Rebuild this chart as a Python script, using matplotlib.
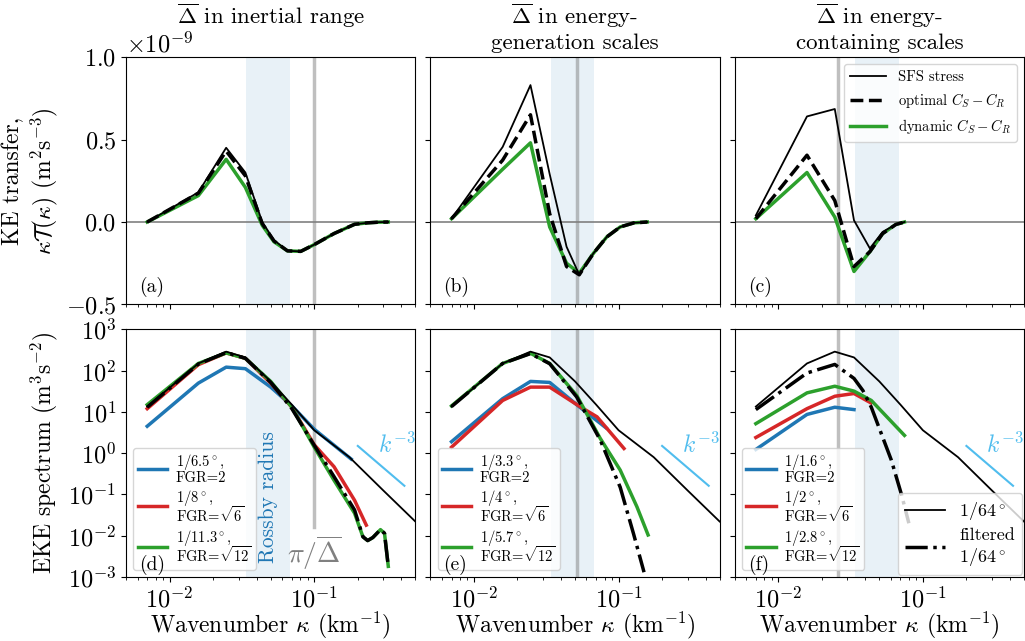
import numpy as np
import matplotlib
matplotlib.use("Agg")
import matplotlib.pyplot as plt
from matplotlib.ticker import NullLocator

plt.rcParams['font.family'] = 'serif'
plt.rcParams['font.serif'] = ['cmr10', 'DejaVu Serif']
plt.rcParams['mathtext.fontset'] = 'cm'
plt.rcParams['axes.formatter.use_mathtext'] = True
plt.rcParams['font.size'] = 17
plt.rcParams['xtick.labelsize'] = 17.5
plt.rcParams['ytick.labelsize'] = 17.5

# ---- KE transfer (units of 1e-9 m^2 s^-3) ----
ka_top = [0.007, 0.0158, 0.0246, 0.0334, 0.0437, 0.0527, 0.0653, 0.0807, 0.1, 0.137, 0.19, 0.234, 0.28, 0.325]
sfs_a = [0.0, 0.18, 0.45, 0.30, 0.0, -0.11, -0.175, -0.178, -0.137, -0.07, -0.014, -0.005, -0.001, 0.0]
opt_a = [0.0, 0.175, 0.43, 0.28, -0.01, -0.115, -0.175, -0.178, -0.137, -0.07, -0.014, -0.005, -0.001, 0.0]
dyn_a = [0.0, 0.16, 0.38, 0.21, -0.02, -0.12, -0.175, -0.178, -0.137, -0.07, -0.014, -0.005, -0.001, 0.0]

kb_top = [0.007, 0.0158, 0.0246, 0.0334, 0.0437, 0.0535, 0.067, 0.083, 0.1026, 0.128, 0.158]
sfs_b = [0.02, 0.455, 0.83, 0.29, -0.15, -0.32, -0.19, -0.09, -0.03, -0.005, 0.0]
opt_b = [0.02, 0.375, 0.65, 0.05, -0.27, -0.32, -0.19, -0.09, -0.03, -0.005, 0.0]
dyn_b = [0.02, 0.32, 0.48, -0.03, -0.25, -0.31, -0.19, -0.09, -0.03, -0.005, 0.0]

kc_top = [0.007, 0.0158, 0.0246, 0.0334, 0.043, 0.0527, 0.065, 0.0746]
sfs_c = [0.04, 0.64, 0.685, 0.01, -0.16, -0.06, -0.015, 0.0]
opt_c = [0.02, 0.405, 0.13, -0.27, -0.18, -0.07, -0.015, 0.0]
dyn_c = [0.02, 0.30, 0.03, -0.30, -0.18, -0.07, -0.015, 0.0]

# ---- EKE spectra (m^3 s^-2) ----
k_hr = [0.007, 0.0158, 0.0246, 0.0334, 0.05, 0.07, 0.1, 0.175, 0.3, 0.5]
E_hr = [13.5, 150, 290, 210, 55, 15, 3.6, 0.8, 0.125, 0.022]

# panel d
kf_d = [0.007, 0.0158, 0.0246, 0.0334, 0.05, 0.07, 0.1, 0.137, 0.19, 0.217, 0.234, 0.254, 0.287, 0.306, 0.325]
Ef_d = [13, 145, 275, 200, 52, 12, 1.55, 0.27, 0.042, 0.0094, 0.0076, 0.009, 0.014, 0.0114, 0.0018]
Eg_d = [15, 150, 270, 200, 55, 13, 1.4, 0.22, 0.035, 0.0094, 0.0076, 0.009, 0.014, 0.0114, 0.0018]
kr_d = [0.007, 0.0158, 0.0246, 0.0334, 0.05, 0.07, 0.1, 0.137, 0.19, 0.229]
Er_d = [12, 140, 270, 200, 50, 13, 1.6, 0.47, 0.072, 0.018]
kbl_d = [0.007, 0.0158, 0.0246, 0.0334, 0.05, 0.07, 0.1, 0.18]
Ebl_d = [4.5, 50, 122, 112, 40, 14, 3.8, 0.72]

# panel e
kf_e = [0.007, 0.0158, 0.0246, 0.0334, 0.0514, 0.0746, 0.1026, 0.127, 0.15]
Ef_e = [13.5, 150, 260, 148, 23, 2.1, 0.15, 0.011, 0.0013]
kg_e = [0.007, 0.0158, 0.0246, 0.0334, 0.0514, 0.0746, 0.1026, 0.134, 0.16]
Eg_e = [14, 150, 265, 150, 25, 2.3, 0.39, 0.05, 0.0104]
kbl_e = [0.007, 0.0158, 0.0246, 0.0334, 0.054, 0.082]
Ebl_e = [1.9, 21, 55, 52, 13, 4.1]
kr_e = [0.007, 0.0158, 0.0246, 0.0334, 0.054, 0.071, 0.083, 0.109]
Er_e = [1.4, 19, 40, 40, 13.5, 7.6, 4, 1.3]

# panel f
kf_f = [0.007, 0.0158, 0.0246, 0.0334, 0.0385, 0.044, 0.0605, 0.0714, 0.08]
Ef_f = [11.4, 88, 142, 65, 33, 13, 0.68, 0.095, 0.02]
kg_f = [0.007, 0.0158, 0.0246, 0.0334, 0.044, 0.0746]
Eg_f = [5.2, 29, 42, 32, 19, 2.7]
kr_f = [0.007, 0.0158, 0.0246, 0.0334, 0.0437]
Er_f = [2.4, 12, 24, 28, 16.6]
kbl_f = [0.007, 0.0158, 0.0246, 0.0334]
Ebl_f = [1.23, 8.7, 13, 11.4]

titles = ["$\\overline{\\Delta}$ in inertial range",
          "$\\overline{\\Delta}$ in energy-\ngeneration scales",
          "$\\overline{\\Delta}$ in energy-\ncontaining scales"]
delta_k = [0.1, 0.0516, 0.026]   # pi / Delta-bar
rossby = (0.034, 0.068)
labels_blue = ["1/6.5$^\\circ$,\nFGR=2", "1/3.3$^\\circ$,\nFGR=2", "1/1.6$^\\circ$,\nFGR=2"]
labels_red = ["1/8$^\\circ$,\nFGR=$\\sqrt{6}$", "1/4$^\\circ$,\nFGR=$\\sqrt{6}$", "1/2$^\\circ$,\nFGR=$\\sqrt{6}$"]
labels_green = ["1/11.3$^\\circ$,\nFGR=$\\sqrt{12}$", "1/5.7$^\\circ$,\nFGR=$\\sqrt{12}$", "1/2.8$^\\circ$,\nFGR=$\\sqrt{12}$"]
kref = np.array([0.2, 0.42])

green = '#2ca02c'
blue = '#1f77b4'
red = '#d62728'
lblue = '#50bdee'

fig, axs = plt.subplots(2, 3, figsize=(10.25, 6.41), dpi=100, sharex=True, sharey='row')
fig.subplots_adjust(left=0.123, right=0.999, top=0.911, bottom=0.1, wspace=0.052, hspace=0.101)

tops = [(ka_top, sfs_a, opt_a, dyn_a), (kb_top, sfs_b, opt_b, dyn_b), (kc_top, sfs_c, opt_c, dyn_c)]
for i, (kk, s, o, d) in enumerate(tops):
    ax = axs[0, i]
    ax.axvspan(*rossby, color=blue, alpha=0.1, lw=0, zorder=0)
    ax.axvline(delta_k[i], color='gray', alpha=0.5, lw=2.5, zorder=1)
    ax.axhline(0, color='gray', lw=1.2, zorder=1)
    ax.plot(kk, np.array(s) * 1e-9, color='k', lw=1.3, label='SFS stress', zorder=3)
    ax.plot(kk, np.array(o) * 1e-9, color='k', lw=2.5, ls='--', label='optimal $C_S-C_R$', zorder=4)
    ax.plot(kk, np.array(d) * 1e-9, color=green, lw=2.5, label='dynamic $C_S-C_R$', zorder=2)
    ax.set_title(titles[i], fontsize=16.5)
    ax.text(0.045, 0.05, '(%s)' % 'abc'[i], transform=ax.transAxes, fontsize=14)

axs[0, 0].set_xscale('log')
axs[0, 0].set_xlim(0.005, 0.5)
axs[0, 0].set_ylim(-0.5e-9, 1.0e-9)
axs[0, 0].set_yticks([-0.5e-9, 0, 0.5e-9, 1.0e-9])
axs[0, 0].set_ylabel('KE transfer,\n$\\kappa\\mathcal{T}(\\kappa)$ (m$^2$s$^{-3}$)')
axs[0, 2].legend(loc='upper right', fontsize=10.5, handlelength=2.5)

bots = [(kf_d, Ef_d, kf_d, Eg_d, kr_d, Er_d, kbl_d, Ebl_d),
        (kf_e, Ef_e, kg_e, Eg_e, kr_e, Er_e, kbl_e, Ebl_e),
        (kf_f, Ef_f, kg_f, Eg_f, kr_f, Er_f, kbl_f, Ebl_f)]
for i, (kf, Ef, kg, Eg, kr, Er, kb, Eb) in enumerate(bots):
    ax = axs[1, i]
    ax.axvspan(*rossby, color=blue, alpha=0.1, lw=0, zorder=0)
    ax.axvline(delta_k[i], ymin=0.2 if i == 0 else 0, color='gray', alpha=0.5, lw=2.5, zorder=1)
    h64, = ax.plot(k_hr, E_hr, color='k', lw=1.3, zorder=3)
    hb, = ax.plot(kb, Eb, color=blue, lw=2.5, label=labels_blue[i], zorder=2)
    hr, = ax.plot(kr, Er, color=red, lw=2.5, label=labels_red[i], zorder=2)
    hg, = ax.plot(kg, Eg, color=green, lw=2.5, label=labels_green[i], zorder=2)
    hf, = ax.plot(kf, Ef, color='k', lw=2.5, ls='-.', zorder=4)
    ax.plot(kref, 1.5 * (kref / 0.2) ** -3, color=lblue, lw=1.5)
    ax.text(0.275, 1.0, '$k^{-3}$', color=lblue, fontsize=17)
    leg = ax.legend(handles=[hb, hr, hg], loc='lower left', fontsize=10.5, handlelength=2.0,
                    handletextpad=0.6, labelspacing=0.2, borderpad=0.3)
    for t in leg.get_texts():
        t.set_linespacing(0.85)
    ax.text(0.045, 0.03, '(%s)' % 'def'[i], transform=ax.transAxes, fontsize=14, zorder=10)
    ax.set_xlabel('Wavenumber $\\kappa$ (km$^{-1}$)', labelpad=-1.5)
    if i == 2:
        ax.add_artist(leg)
        ax.legend([h64, hf], ['1/64$^\\circ$', 'filtered\n1/64$^\\circ$'], loc='lower right',
                  fontsize=13, handlelength=2.2, borderaxespad=0.1, labelspacing=0.3)

axs[1, 0].set_yscale('log')
axs[1, 0].set_ylim(1e-3, 1e3)
axs[1, 0].yaxis.set_minor_locator(NullLocator())
axs[1, 0].set_yticks([1e-3, 1e-2, 1e-1, 1e0, 1e1, 1e2, 1e3])
axs[1, 0].set_ylabel('EKE spectrum (m$^3$s$^{-2}$)')
axs[1, 0].text(0.048, 0.0022, 'Rossby radius', rotation=90, color=blue, fontsize=15.5,
               ha='center', va='bottom', zorder=10)
axs[1, 0].text(0.1, 0.0013, '$\\pi/\\overline{\\Delta}$', color='gray', fontsize=20, ha='center', va='bottom')

fig.align_ylabels(axs[:, 0])
fig.savefig('out.png', dpi=100)
